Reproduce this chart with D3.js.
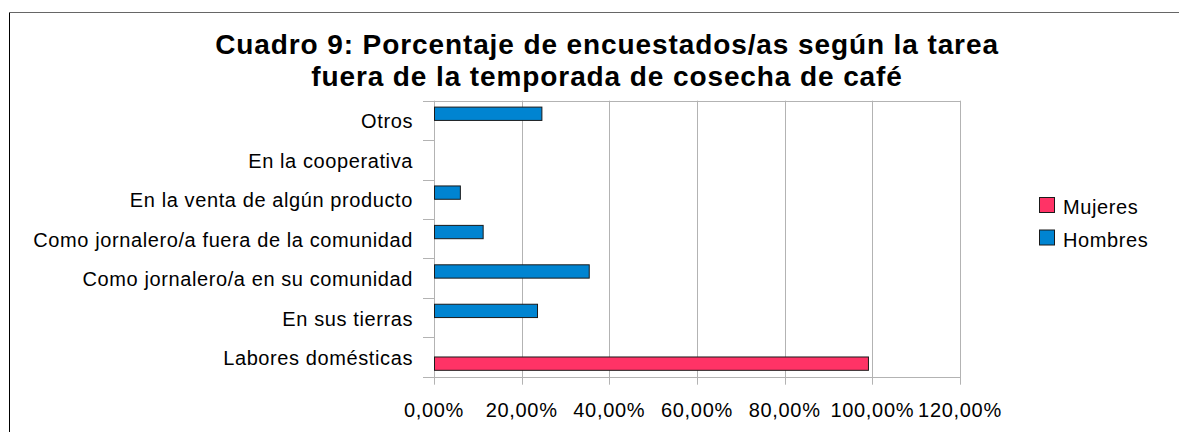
<!DOCTYPE html>
<html>
<head>
<meta charset="utf-8">
<script src="https://cdn.jsdelivr.net/npm/d3@7"></script>
<style>
  body { margin: 0; background: #fff; }
  svg { display: block; font-family: "Liberation Sans", Arial, sans-serif; }
</style>
</head>
<body>
<svg id="chart"></svg>
<script>
const titleLines = [
  'Cuadro 9: Porcentaje de encuestados/as según la tarea',
  'fuera de la temporada de cosecha de café'
];
const categories = [
  'Labores domésticas',
  'En sus tierras',
  'Como jornalero/a en su comunidad',
  'Como jornalero/a fuera de la comunidad',
  'En la venta de algún producto',
  'En la cooperativa',
  'Otros'
];
const seriesNames = ['Mujeres', 'Hombres'];
const mujeres = [0.99, 0, 0, 0, 0, 0, 0];
const hombres = [0, 0.235, 0.353, 0.111, 0.059, 0, 0.245];
const xTicks = [0, 0.2, 0.4, 0.6, 0.8, 1.0, 1.2];
const colors = { Mujeres: '#ff3366', Hombres: '#0084d1' };

const width = 1179, height = 432;
const plot = { left: 434, right: 960, top: 100.7, bottom: 376.7 };

const svg = d3.select('#chart')
  .attr('width', width)
  .attr('height', height);

// outer frame (only left and top edges are visible)
svg.append('line')
  .attr('x1', 9.5).attr('x2', 9.5).attr('y1', 12).attr('y2', height)
  .attr('stroke', '#000');
svg.append('line')
  .attr('x1', 9).attr('x2', width).attr('y1', 12.5).attr('y2', 12.5)
  .attr('stroke', '#666');

// title
svg.append('text')
  .attr('x', 607)
  .attr('text-anchor', 'middle')
  .style('font-size', '28px')
  .style('font-weight', 'bold')
  .style('letter-spacing', '0.9px')
  .selectAll('tspan')
  .data(titleLines)
  .enter()
  .append('tspan')
  .attr('x', 607)
  .attr('y', (d, i) => 54 + i * 32)
  .text(d => d);

const x = d3.scaleLinear()
  .domain([0, 1.2])
  .range([plot.left, plot.right]);

// Otros on top, Labores domésticas at the bottom
const y0 = d3.scaleBand()
  .domain(categories)
  .range([plot.bottom, plot.top])
  .padding(0);

const y1 = d3.scaleBand()
  .domain(['Hombres', 'Mujeres'])
  .range([0, y0.bandwidth()])
  .paddingInner(0)
  .paddingOuter(0.48);

// vertical grid lines + small ticks below the axis
svg.append('g')
  .selectAll('line')
  .data(xTicks)
  .enter()
  .append('line')
  .attr('x1', d => Math.round(x(d)) + 0.5)
  .attr('x2', d => Math.round(x(d)) + 0.5)
  .attr('y1', plot.top)
  .attr('y2', plot.bottom + 8)
  .attr('stroke', '#b3b3b3');

// horizontal frame lines + category ticks to the left
const boundaries = d3.range(categories.length + 1).map(i => plot.top + i * y0.step());
svg.append('g')
  .selectAll('line')
  .data(boundaries)
  .enter()
  .append('line')
  .attr('x1', plot.left - 11)
  .attr('x2', (d, i) => (i === 0 || i === categories.length) ? plot.right : plot.left)
  .attr('y1', d => Math.round(d) + 0.5)
  .attr('y2', d => Math.round(d) + 0.5)
  .attr('stroke', '#b3b3b3');

// x tick labels
const fmt = d => d3.format('.2f')(d * 100).replace('.', ',') + '%';
svg.append('g')
  .selectAll('text')
  .data(xTicks)
  .enter()
  .append('text')
  .attr('x', d => x(d))
  .attr('y', 417)
  .attr('text-anchor', 'middle')
  .style('font-size', '20px')
  .style('letter-spacing', '0.7px')
  .text(fmt);

// category labels
svg.append('g')
  .selectAll('text')
  .data(categories)
  .enter()
  .append('text')
  .attr('x', 413)
  .attr('y', d => y0(d) + y0.bandwidth() / 2 + 8)
  .attr('text-anchor', 'end')
  .style('font-size', '20px')
  .style('letter-spacing', '0.6px')
  .text(d => d);

// bars
const rows = categories.map((c, i) => ({ cat: c, Mujeres: mujeres[i], Hombres: hombres[i] }));
const groups = svg.append('g')
  .selectAll('g')
  .data(rows)
  .enter()
  .append('g')
  .attr('transform', d => `translate(0,${y0(d.cat)})`);

groups.selectAll('rect')
  .data(d => seriesNames.map(s => ({ key: s, value: d[s] })).filter(v => v.value > 0))
  .enter()
  .append('rect')
  .attr('x', x(0) + 0.5)
  .attr('y', d => y1(d.key))
  .attr('width', d => x(d.value) - x(0))
  .attr('height', y1.bandwidth())
  .attr('fill', d => colors[d.key])
  .attr('stroke', '#1a1a1a')
  .attr('stroke-width', 1);

// legend
const legend = svg.append('g')
  .selectAll('g')
  .data(seriesNames)
  .enter()
  .append('g')
  .attr('transform', (d, i) => `translate(1039,${197 + i * 32.5})`);

legend.append('rect')
  .attr('x', 0.5).attr('y', 0.5)
  .attr('width', 15).attr('height', 15)
  .attr('fill', d => colors[d])
  .attr('stroke', '#1a1a1a');

legend.append('text')
  .attr('x', 24)
  .attr('y', 17)
  .style('font-size', '20px')
  .style('letter-spacing', '0.6px')
  .text(d => d);
</script>
</body>
</html>
